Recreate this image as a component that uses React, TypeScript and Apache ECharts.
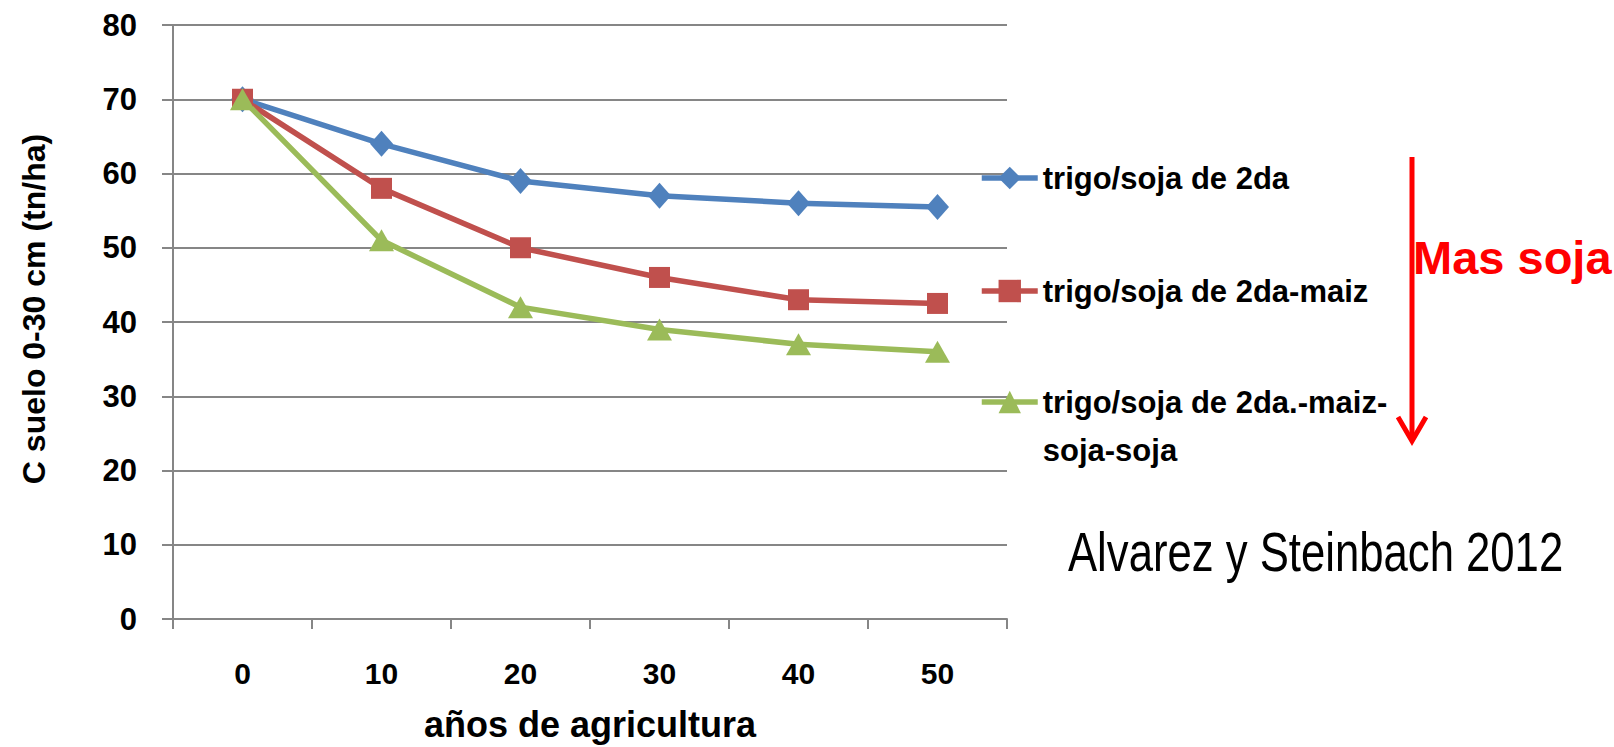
import React, { useEffect, useRef } from "react";
import * as echarts from "echarts";

const categories = ["0", "10", "20", "30", "40", "50"];
const seriesNames = [
  "trigo/soja de 2da",
  "trigo/soja de 2da-maiz",
  "trigo/soja de 2da.-maiz-soja-soja",
];
const trigoSoja = [70, 64, 59, 57, 56, 55.5];
const trigoSojaMaiz = [70, 58, 50, 46, 43, 42.5];
const trigoSojaMaizSojaSoja = [70, 51, 42, 39, 37, 36];
const yTicks = { min: 0, max: 80, interval: 10 };

const SANS = '"Liberation Sans", Arial, sans-serif';
const GRAY = "#868686";
const COLORS = ["#4F81BD", "#C0504D", "#9BBB59"];

export default function App() {
  const ref = useRef<HTMLDivElement>(null);
  useEffect(() => {
    document.body.style.margin = "0";
    if (!ref.current) return;
    const chart = echarts.init(ref.current, undefined, { renderer: "svg" });
    const legendText = {
      fontFamily: SANS,
      fontWeight: "bold",
      fontSize: 31,
      lineHeight: 48,
      color: "#000",
    };
    const legendBase = {
      orient: "vertical",
      left: 979,
      padding: 0,
      itemWidth: 56,
      itemHeight: 28,
      selectedMode: false,
      lineStyle: { width: 5.5 },
      textStyle: legendText,
    };
    chart.setOption({
      animation: false,
      backgroundColor: "#fff",
      grid: { left: 173, top: 25, width: 834, height: 600, containLabel: false },
      xAxis: {
        type: "category",
        data: categories,
        boundaryGap: true,
        name: "años de agricultura",
        nameLocation: "middle",
        nameGap: 87,
        nameTextStyle: { fontFamily: SANS, fontWeight: "bold", fontSize: 36, color: "#000" },
        axisLine: { show: true, lineStyle: { color: GRAY, width: 2 } },
        axisTick: { show: true, length: 10, interval: 0, lineStyle: { color: GRAY, width: 2 } },
        axisLabel: {
          margin: 39,
          interval: 0,
          fontFamily: SANS,
          fontWeight: "bold",
          fontSize: 30,
          color: "#000",
        },
        splitLine: { show: false },
      },
      yAxis: {
        type: "value",
        min: yTicks.min,
        max: yTicks.max,
        interval: yTicks.interval,
        name: "C suelo 0-30 cm (tn/ha)",
        nameLocation: "middle",
        nameGap: 123,
        nameTextStyle: {
          fontFamily: SANS,
          fontWeight: "bold",
          fontSize: 32,
          color: "#000",
          padding: [0, 0, 0, 26],
        },
        axisLine: { show: true, lineStyle: { color: GRAY, width: 2 } },
        axisTick: { show: true, length: 11, lineStyle: { color: GRAY, width: 2 } },
        axisLabel: {
          margin: 36,
          fontFamily: SANS,
          fontWeight: "bold",
          fontSize: 31,
          color: "#000",
        },
        splitLine: { show: true, lineStyle: { color: GRAY, width: 2 } },
      },
      legend: [
        { ...legendBase, top: 154, data: [seriesNames[0]] },
        { ...legendBase, top: 267, data: [seriesNames[1]] },
        {
          ...legendBase,
          top: 330,
          data: [seriesNames[2]],
          formatter: () => "\ntrigo/soja de 2da.-maiz-\nsoja-soja",
        },
      ],
      series: [
        {
          name: seriesNames[0],
          type: "line",
          data: trigoSoja,
          symbol: "diamond",
          symbolSize: [23, 26],
          lineStyle: { color: COLORS[0], width: 5.5 },
          itemStyle: { color: COLORS[0] },
        },
        {
          name: seriesNames[1],
          type: "line",
          data: trigoSojaMaiz,
          symbol: "rect",
          symbolSize: 21,
          lineStyle: { color: COLORS[1], width: 5.5 },
          itemStyle: { color: COLORS[1] },
        },
        {
          name: seriesNames[2],
          type: "line",
          data: trigoSojaMaizSojaSoja,
          symbol: "triangle",
          symbolSize: [25, 22],
          lineStyle: { color: COLORS[2], width: 5.5 },
          itemStyle: { color: COLORS[2] },
        },
      ],
      graphic: [
        {
          type: "line",
          shape: { x1: 1412, y1: 157, x2: 1412, y2: 440 },
          style: { stroke: "#FF0000", lineWidth: 5 },
        },
        {
          type: "polyline",
          shape: { points: [[1398, 417], [1412, 441], [1426, 417]] },
          style: { stroke: "#FF0000", lineWidth: 5, fill: "none" },
        },
        {
          type: "text",
          x: 1413,
          y: 257,
          style: {
            text: "Mas soja",
            fontFamily: SANS,
            fontWeight: "bold",
            fontSize: 47,
            fill: "#FF0000",
            align: "left",
            verticalAlign: "middle",
          },
        },
        {
          type: "text",
          x: 1068,
          y: 552,
          scaleX: 0.78,
          style: {
            text: "Alvarez y Steinbach 2012",
            fontFamily: SANS,
            fontSize: 56,
            fill: "#000",
            align: "left",
            verticalAlign: "middle",
          },
        },
      ],
    });
    return () => chart.dispose();
  }, []);
  return <div ref={ref} style={{ width: 1614, height: 747 }} />;
}
